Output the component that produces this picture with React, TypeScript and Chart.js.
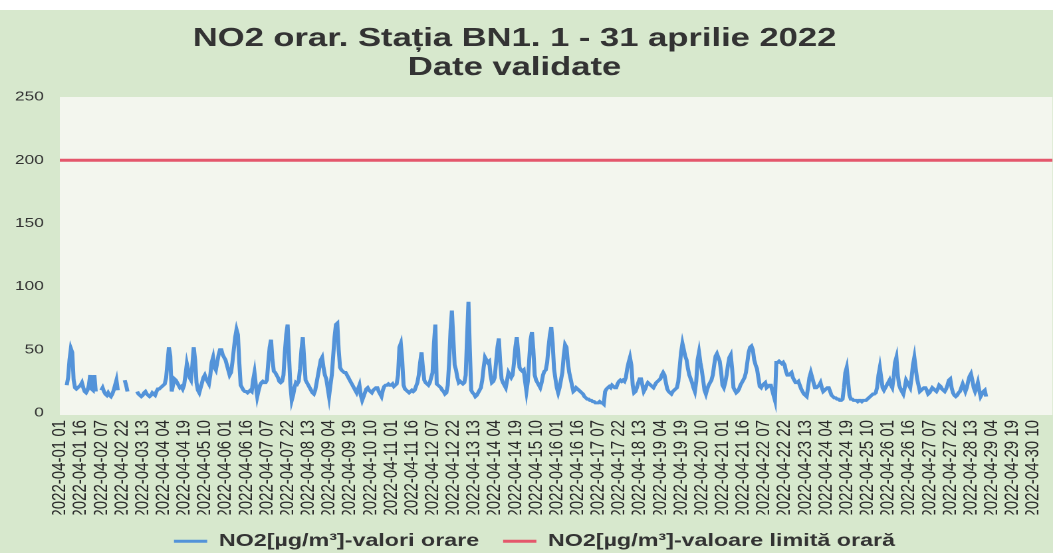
import { useEffect, useRef } from 'react';
import { Chart, registerables } from 'chart.js';

Chart.register(...registerables);

// The reference is a horizontally stretched scan; the chart is drawn on a
// narrower logical canvas and stretched by CSS to the page width.
const PAGE_W = 1053;
const PAGE_H = 553;
const LOGICAL_W = 792;

const titleLines = ['NO2 orar. Stația BN1. 1 - 31 aprilie 2022', 'Date validate'];
const seriesNames = ['NO2[µg/m³]-valori orare', 'NO2[µg/m³]-valoare limită orară'];
const yTickMin = 0;
const yTickMax = 250;
const yTickStep = 50;
const xTickEvery = 15;

// hourly categories: 2022-04-01 01 ... 2022-04-30 24
const categories: string[] = [];
for (let d = 1; d <= 30; d++) {
  for (let h = 1; h <= 24; h++) {
    categories.push(`2022-04-${String(d).padStart(2, '0')} ${String(h).padStart(2, '0')}`);
  }
}

// NO2 hourly values (µg/m³); null = missing hour
const no2Hourly: (number | null)[] = [
  // 01
  null, null, null, null, null, 22, 28, 42, 51, 48, 26, 20, 19, 20, 21, 22, 24, 20, 17, 16, 18, 22, 30, 19,
  // 02
  18, 30, 17, null, null, null, 18, 20, 17, 15, 14, 16, 14, 13, 15, 18, 22, 26, 18, null, null, null, null, 26,
  // 03
  22, 17, null, null, null, null, null, null, 17, 15, 14, 13, 14, 16, 17, 15, 14, 13, 14, 16, 15, 14, 17, 19,
  // 04
  19, 20, 21, 22, 23, 28, 40, 52, 45, 17, 22, 27, 26, 24, 22, 20, 21, 19, 22, 30, 39, 34, 28, 26,
  // 05
  38, 52, 42, 24, 18, 16, 20, 24, 28, 30, 27, 25, 23, 30, 40, 44, 36, 34, 40, 46, 50, 50, 46, 44,
  // 06
  42, 38, 34, 30, 32, 40, 50, 60, 66, 62, 40, 22, 20, 18, 17, 17, 16, 17, 18, 17, 26, 32, 22, 13,
  // 07
  18, 22, 24, 25, 24, 24, 26, 40, 52, 58, 42, 33, 32, 30, 28, 25, 24, 25, 30, 48, 62, 70, 45, 22,
  // 08
  10, 14, 20, 24, 23, 25, 35, 50, 60, 42, 26, 24, 22, 20, 18, 16, 15, 18, 24, 30, 36, 42, 44, 36,
  // 09
  30, 27, 20, 13, 22, 30, 45, 60, 70, 71, 50, 36, 34, 33, 32, 32, 30, 28, 26, 24, 22, 20, 18, 16,
  // 10
  19, 22, 14, 10, 13, 16, 19, 20, 18, 17, 16, 18, 19, 20, 20, 17, 15, 13, 18, 21, 22, 22, 23, 22,
  // 11
  22, 23, 21, 22, 23, 30, 52, 55, 42, 22, 19, 18, 17, 16, 17, 18, 17, 18, 21, 24, 30, 40, 48, 36,
  // 12
  26, 24, 23, 22, 24, 28, 32, 55, 70, 23, 22, 21, 20, 18, 17, 15, 16, 22, 40, 65, 81, 60, 38, 34,
  // 13
  28, 24, 25, 24, 23, 24, 30, 60, 88, 50, 18, 16, 15, 13, 14, 16, 18, 20, 26, 36, 44, 42, 40, 41,
  // 14
  30, 24, 25, 28, 40, 52, 59, 40, 27, 24, 22, 20, 26, 32, 30, 28, 30, 40, 52, 60, 48, 36, 34, 33,
  // 15
  34, 25, 17, 25, 42, 58, 64, 50, 30, 26, 24, 22, 20, 24, 30, 33, 34, 40, 52, 62, 68, 55, 35, 27,
  // 16
  20, 16, 20, 26, 32, 45, 54, 52, 40, 32, 27, 22, 17, 18, 20, 19, 18, 17, 16, 15, 13, 12, 11, 11,
  // 17
  10, 10, 9, 9, 8, 8, 8, 9, 8, 8, 7, 17, 19, 20, 21, 20, 22, 21, 20, 20, 23, 25, 26, 25,
  // 18
  26, 25, 28, 35, 40, 44, 38, 22, 16, 17, 20, 24, 27, 27, 22, 17, 19, 22, 24, 23, 22, 21, 20, 22,
  // 19
  24, 25, 26, 27, 30, 32, 30, 24, 19, 17, 16, 15, 17, 18, 19, 20, 25, 36, 48, 55, 50, 45, 42, 35,
  // 20
  30, 27, 24, 20, 17, 25, 42, 48, 40, 34, 26, 18, 15, 19, 22, 24, 26, 30, 38, 45, 47, 44, 41, 33,
  // 21
  22, 20, 24, 30, 38, 44, 46, 35, 20, 18, 16, 17, 19, 22, 24, 26, 28, 32, 40, 48, 52, 53, 50, 42,
  // 22
  38, 35, 28, 21, 20, 22, 23, 24, 20, 21, 22, 22, 18, 14, 10, 40, 40, 41, 40, 39, 40, 38, 33, 30,
  // 23
  30, 31, 32, 28, 26, 24, 24, 25, 22, 19, 17, 15, 14, 13, 20, 28, 32, 28, 24, 20, 20, 21, 22, 24,
  // 24
  20, 17, 18, 19, 20, 20, 17, 14, 13, 12, 12, 11, 11, 10, 10, 11, 20, 32, 36, 25, 14, 11, 11, 10,
  // 25
  10, 10, 9, 10, 10, 9, 10, 10, 10, 11, 12, 13, 14, 15, 15, 16, 20, 30, 36, 28, 20, 18, 20, 22,
  // 26
  24, 26, 22, 20, 28, 40, 44, 30, 22, 19, 17, 15, 20, 26, 24, 22, 20, 28, 38, 44, 35, 27, 22, 17,
  // 27
  18, 19, 20, 20, 18, 15, 16, 18, 20, 19, 18, 17, 19, 22, 21, 19, 18, 17, 19, 22, 26, 27, 20, 16,
  // 28
  14, 13, 14, 16, 17, 20, 23, 20, 17, 20, 25, 29, 31, 26, 20, 17, 20, 24, 18, 13, 15, 17, 18, 13,
];

// hourly limit value (µg/m³), held over the whole month
const limitValue = 200;

const FONT = "'Liberation Sans', Arial, Helvetica, sans-serif";

const backdropPlugin = {
  id: 'backdrop',
  afterLayout(chart: any) {
    // nudge the legend row to the right, as in the reference
    const legend = chart.legend;
    if (legend) {
      legend.left += 6;
      legend.right += 6;
    }
  },
  beforeDraw(chart: any) {
    const { ctx, width, height, chartArea } = chart;
    ctx.save();
    ctx.fillStyle = '#ffffff';
    ctx.fillRect(0, 0, width, height);
    ctx.fillStyle = '#d7e8cd';
    ctx.fillRect(0, 10, width, height - 10);
    ctx.fillStyle = '#f3f6ee';
    ctx.fillRect(chartArea.left, chartArea.top, chartArea.right - chartArea.left, chartArea.bottom - chartArea.top + 2);
    ctx.fillStyle = '#333333';
    ctx.font = `bold 26px ${FONT}`;
    ctx.textAlign = 'center';
    ctx.textBaseline = 'alphabetic';
    ctx.fillText(titleLines[0], 387, 46);
    ctx.fillText(titleLines[1], 387, 75);
    ctx.restore();
  },
};

export default function App() {
  const canvasRef = useRef<HTMLCanvasElement>(null);

  useEffect(() => {
    document.body.style.margin = '0';
    const canvas = canvasRef.current;
    if (!canvas) return;
    const lastIndex = categories.length - 1;
    const chart = new Chart(canvas, {
      type: 'line',
      data: {
        datasets: [
          {
            label: seriesNames[0],
            data: no2Hourly.map((y, i) => ({ x: i, y })),
            borderColor: '#5393d9',
            backgroundColor: '#5393d9',
            borderWidth: 3,
            pointRadius: 0,
            tension: 0,
            spanGaps: false,
          },
          {
            label: seriesNames[1],
            data: [
              { x: 0, y: limitValue },
              { x: lastIndex, y: limitValue },
            ],
            borderColor: '#e4576c',
            backgroundColor: '#e4576c',
            borderWidth: 3,
            pointRadius: 0,
          },
        ],
      },
      options: {
        responsive: false,
        maintainAspectRatio: false,
        devicePixelRatio: 2,
        animation: false,
        events: [],
        layout: { padding: { top: 97, left: 0, right: 0, bottom: -7 } },
        scales: {
          x: {
            type: 'linear',
            min: 0,
            max: lastIndex,
            bounds: 'data',
            grid: { display: false, drawTicks: true, tickLength: 7 },
            border: { display: false },
            afterBuildTicks: (scale: any) => {
              scale.ticks = scale.ticks.filter((t: any) => Math.round(t.value) % xTickEvery === 0);
            },
            ticks: {
              stepSize: xTickEvery,
              includeBounds: false,
              autoSkip: false,
              minRotation: 90,
              maxRotation: 90,
              padding: 0,
              color: '#2a2a2a',
              font: { family: FONT, size: 15, lineHeight: 1 },
              callback: (value: any) => categories[Math.round(Number(value))] ?? '',
            },
            afterFit: (scale: any) => {
              scale.height = 101.5;
            },
          },
          y: {
            min: yTickMin,
            max: yTickMax,
            grid: { display: false, drawTicks: false },
            border: { display: false },
            ticks: {
              stepSize: yTickStep,
              padding: 12,
              color: '#333333',
              font: { family: FONT, size: 13 },
            },
            afterFit: (scale: any) => {
              scale.width = 45;
            },
          },
        },
        plugins: {
          title: { display: false },
          tooltip: { enabled: false },
          legend: {
            display: true,
            position: 'bottom',
            labels: {
              usePointStyle: true,
              pointStyle: 'line',
              pointStyleWidth: 25,
              padding: 18,
              color: '#333333',
              font: { family: FONT, size: 17.5, weight: 'bold' },
            },
          },
        },
      },
      plugins: [backdropPlugin],
    } as any);
    return () => chart.destroy();
  }, []);

  return (
    <div style={{ width: PAGE_W, height: PAGE_H, overflow: 'hidden', background: '#ffffff' }}>
      <canvas
        ref={canvasRef}
        width={LOGICAL_W}
        height={PAGE_H}
        style={{ width: `${PAGE_W}px`, height: `${PAGE_H}px`, display: 'block' }}
      />
    </div>
  );
}
